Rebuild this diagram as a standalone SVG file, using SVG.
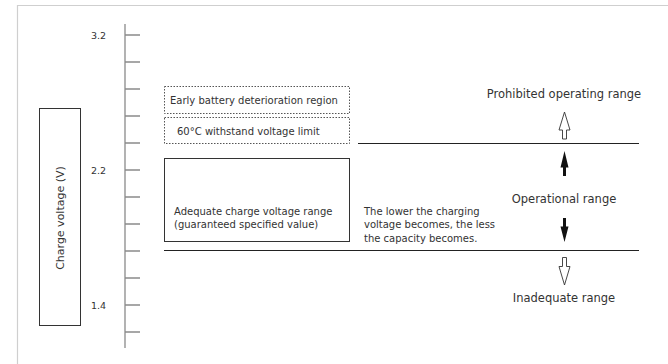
<svg xmlns="http://www.w3.org/2000/svg" width="668" height="364" viewBox="0 0 668 364">
<defs>
<style>
text{font-family:"DejaVu Sans",sans-serif;fill:#333}
.s{font-size:10px}
.t{font-size:9.5px}
.m{font-size:11.5px}
.ax{stroke:#8a8a8a;stroke-width:1.3;fill:none}
.ln{stroke:#222;stroke-width:1.2;fill:none}
.box{stroke:#333;stroke-width:1;fill:#fff}
.dot{stroke:#555;stroke-width:1;stroke-dasharray:1.5 1.5;fill:#fff}
.hol{fill:#fff;stroke:#333;stroke-width:0.9}
.sol{fill:#111}
</style>
</defs>
<rect x="0" y="0" width="668" height="364" fill="#fff"/>
<path d="M17.5 364V5.5H668" stroke="#cfcfcf" stroke-width="1.2" fill="none"/>
<g id="axis">
<path class="ax" d="M125 24V348M125 35H140M125 62H140M125 89H140M125 116H140M125 143H140M125 170H140M125 197H140M125 224H140M125 251H140M125 278H140M125 305H140M125 332H140"/>
<text class="t" x="106" y="38.5" text-anchor="end">3.2</text>
<text class="t" x="106" y="173.5" text-anchor="end">2.2</text>
<text class="t" x="106" y="308.5" text-anchor="end">1.4</text>
</g>
<g id="ylabel">
<rect class="box" x="39.5" y="108.5" width="41" height="217"/>
<text class="m" transform="translate(64,218) rotate(-90)" text-anchor="middle" style="font-size:11px">Charge voltage (V)</text>
</g>
<g id="early">
<rect class="dot" x="164.5" y="86.5" width="185" height="27"/>
<text class="s" x="170" y="103.5">Early battery deterioration region</text>
</g>
<g id="limit60">
<rect class="dot" x="164.5" y="117.5" width="185" height="26"/>
<text class="s" x="177" y="134.5">60°C withstand voltage limit</text>
</g>
<g id="adequate">
<rect class="box" x="164.5" y="158.5" width="185" height="83"/>
<text class="s" x="174" y="214.5">Adequate charge voltage range</text>
<text class="s" x="174" y="228">(guaranteed specified value)</text>
</g>
<g id="note">
<text class="s" x="364" y="214.5">The lower the charging</text>
<text class="s" x="364" y="228">voltage becomes, the less</text>
<text class="s" x="364" y="241.5">the capacity becomes.</text>
</g>
<g id="prohibited"><text class="m" x="564" y="98" text-anchor="middle">Prohibited operating range</text></g>
<g id="operational"><text class="m" x="564" y="203" text-anchor="middle">Operational range</text></g>
<g id="inadequate"><text class="m" x="564" y="302" text-anchor="middle">Inadequate range</text></g>
<g id="connectors">
<path class="ln" d="M358 143.5H639M164 250.5H639"/>
<path class="hol" d="M562.5 139V130H559L564.5 112L570 130H566.5V139Z"/>
<path class="sol" d="M563 176V167.5H560.5L564.5 151L568.5 167.5H566V176Z"/>
<path class="sol" d="M563 218V226.5H560.5L564.5 242L568.5 226.5H566V218Z"/>
<path class="hol" d="M562.5 257.5V266.5H559L564.5 285L570 266.5H566.5V257.5Z"/>
</g>
</svg>
